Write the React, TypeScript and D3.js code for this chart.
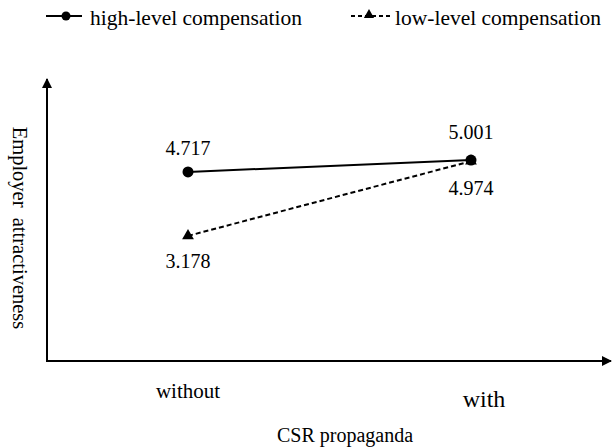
import React from "react";
import * as d3 from "d3";

const categories = ["without", "with"];
const highValues = [4.717, 5.001];
const lowValues = [3.178, 4.974];
const seriesNames = ["high-level compensation", "low-level compensation"];
const xTitle = "CSR propaganda";
const yTitle = "Employer  attractiveness";

const W = 614;
const H = 448;
const FONT = "Liberation Serif, Times New Roman, serif";

export default function App() {
  const x = d3.scalePoint<string>().domain(categories).range([188, 471]);
  const y = d3.scaleLinear().domain([0, 7]).range([368, 77]);
  const axisX0 = 47;
  const axisY0 = 361;

  const line = d3
    .line<number>()
    .x((_, i) => x(categories[i]) as number)
    .y((d) => y(d));

  const tri = d3.symbol().type(d3.symbolTriangle).size(60)();
  const triSmall = d3.symbol().type(d3.symbolTriangle).size(45)();
  const tStyle: React.CSSProperties = { fontFamily: FONT, fill: "#000" };

  return (
    <svg
      width={W}
      height={H}
      style={{ position: "absolute", left: 0, top: 0, background: "#fff" }}
    >
      <defs>
        <marker id="arr" viewBox="0 0 10 10" refX="9" refY="5" markerWidth="5" markerHeight="5" orient="auto" markerUnits="strokeWidth">
          <path d="M0,0 L10,5 L0,10 z" fill="#000" />
        </marker>
      </defs>

      {/* legend */}
      <g>
        <line x1={46} x2={82} y1={16} y2={16} stroke="#000" strokeWidth={2} />
        <circle cx={66} cy={16} r={4.5} fill="#000" />
        <text x={90} y={25} style={{ ...tStyle, fontSize: "21.5px" }}>{seriesNames[0]}</text>
        <line x1={351} x2={391} y1={16} y2={16} stroke="#000" strokeWidth={2} strokeDasharray="4,3" />
        <path d={triSmall} transform="translate(369,15)" fill="#000" />
        <text x={395} y={25} style={{ ...tStyle, fontSize: "21.5px" }}>{seriesNames[1]}</text>
      </g>

      {/* axes */}
      <line x1={axisX0} y1={axisY0} x2={axisX0} y2={79} stroke="#000" strokeWidth={2} markerEnd="url(#arr)" />
      <line x1={axisX0 - 1} y1={axisY0} x2={611} y2={axisY0} stroke="#000" strokeWidth={2} markerEnd="url(#arr)" />

      {/* lines */}
      <path d={line(highValues) || ""} fill="none" stroke="#000" strokeWidth={2} />
      <path d={line(lowValues) || ""} fill="none" stroke="#000" strokeWidth={2} strokeDasharray="5,3" />

      {highValues.map((v, i) => (
        <circle key={"h" + i} cx={x(categories[i])} cy={y(v)} r={5.5} fill="#000" />
      ))}
      {lowValues.map((v, i) => (
        <path key={"l" + i} d={tri} transform={`translate(${x(categories[i])},${y(v)})`} fill="#000" />
      ))}

      {/* value labels */}
      <text x={x(categories[0])} y={y(highValues[0]) - 17} textAnchor="middle" style={{ ...tStyle, fontSize: "20px" }}>{highValues[0].toFixed(3)}</text>
      <text x={x(categories[0])} y={y(lowValues[0]) + 32} textAnchor="middle" style={{ ...tStyle, fontSize: "20px" }}>{lowValues[0].toFixed(3)}</text>
      <text x={x(categories[1])} y={y(highValues[1]) - 21} textAnchor="middle" style={{ ...tStyle, fontSize: "20px" }}>{highValues[1].toFixed(3)}</text>
      <text x={x(categories[1])} y={y(lowValues[1]) + 34} textAnchor="middle" style={{ ...tStyle, fontSize: "20px" }}>{lowValues[1].toFixed(3)}</text>

      {/* category labels */}
      <text x={x(categories[0])} y={398} textAnchor="middle" style={{ ...tStyle, fontSize: "21px" }}>{categories[0]}</text>
      <text x={(x(categories[1]) as number) + 13} y={407} textAnchor="middle" style={{ ...tStyle, fontSize: "24px" }}>{categories[1]}</text>

      {/* titles */}
      <text x={345} y={442} textAnchor="middle" style={{ ...tStyle, fontSize: "20px" }}>{xTitle}</text>
      <text transform="translate(13,228) rotate(90)" textAnchor="middle" style={{ ...tStyle, fontSize: "20.5px", whiteSpace: "pre" }}>{yTitle}</text>
    </svg>
  );
}
